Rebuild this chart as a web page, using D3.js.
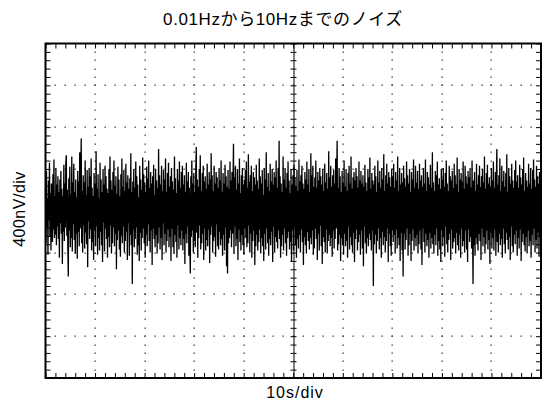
<!DOCTYPE html>
<html>
<head>
<meta charset="utf-8">
<script src="https://cdn.jsdelivr.net/npm/d3@7/dist/d3.min.js"></script>
<style>
  html, body { margin: 0; padding: 0; background: #fff; }
  svg { display: block; }
  text { font-family: "Liberation Sans", Arial, "Noto Sans CJK JP", sans-serif; fill: #000; }
</style>
</head>
<body>
<svg id="chart" width="543" height="414"></svg>
<script>
// Scope screen: 10 horizontal divisions of 10 s, 8 vertical divisions of 400 nV
const titleText = "0.01Hzから10Hzまでのノイズ";
const xLabel = "10s/div";
const yLabel = "400nV/div";
const timeDivs = [0, 10, 20, 30, 40, 50, 60, 70, 80, 90, 100];          // seconds
const voltDivs = [-1600, -1200, -800, -400, 0, 400, 800, 1200, 1600];   // nV

// Noise trace samples in nV, evenly spaced over the 100 s sweep
const noiseNV = [
  220,-310,380,-160,120,-420,290,-90,460,-250,170,-380,260,-40,-300,350,-180,490,-260,140,-230,410,-330,250,-150,
  330,-270,180,-450,300,-120,380,-220,210,-510,140,-200,440,-290,260,-160,470,530,-240,200,-360,-630,310,-190,420,
  -350,160,-260,520,-390,270,-130,450,-280,180,-410,300,-220,130,-460,380,-200,280,-340,560,-170,240,690,-310,190,
  -400,340,-140,270,-360,480,-210,150,-320,390,-540,230,-100,410,-270,330,-180,500,-380,220,-300,140,-470,360,-190,
  260,-340,570,-150,210,-420,350,-260,120,-380,460,-200,300,-330,180,-490,400,-110,250,-390,430,-170,330,-270,210,
  -450,170,-250,400,-350,520,-140,290,-410,200,-310,370,-160,480,-340,240,-220,330,-560,160,-280,420,-190,300,-370,
  140,-440,350,-240,500,-310,230,-150,390,-400,190,-290,450,-200,270,-470,340,-120,210,-430,310,-230,550,-330,180,
  -700,280,-180,400,-350,220,-270,470,-160,330,-420,250,-330,130,-480,430,-210,300,-380,200,-260,510,-170,350,-310,
  270,-450,180,-230,420,-340,310,-130,480,-290,220,-400,370,-190,260,-520,330,-170,440,-270,150,-350,400,-230,290,
  -410,220,-310,590,-160,340,-370,250,-260,430,-470,190,-120,390,-330,300,-220,500,-400,180,-290,360,-180,460,-350,
  230,-250,330,-480,410,-170,280,-350,200,-410,520,-230,310,-300,170,-450,400,-140,290,-370,470,-260,220,-330,370,
  -190,430,-380,250,-270,340,-510,180,-220,460,-310,280,-150,370,-430,220,-340,-600,330,-250,480,-190,260,-400,360,
  -290,180,-350,410,610,-210,300,-450,230,-260,400,-140,530,-370,190,-310,360,-220,430,-470,280,-170,330,-380,210,
  -280,450,-340,250,-180,370,-500,300,-230,550,-150,340,-400,190,-290,430,-250,260,-440,370,-130,320,-340,220,-370,
  410,-200,290,-330,480,-270,180,-430,360,-230,260,-380,440,-160,330,-530,230,-600,390,-310,210,-260,470,-190,290,
  -350,370,-220,250,640,-410,320,-150,430,-340,200,-270,400,-470,260,-180,500,-300,170,-380,340,-230,410,-330,250,
  -420,300,-170,390,-260,470,-350,220,-310,540,-140,280,-400,340,-220,430,-450,190,-290,370,-190,320,-520,250,-340,
  440,-230,290,-380,210,-300,500,-180,330,-410,260,-260,390,-340,150,-480,410,-220,300,-370,560,-170,230,-310,360,
  -430,190,-270,450,-330,280,-200,400,-490,250,-150,370,-400,320,-250,480,-300,220,-360,410,-190,670,-270,330,-450,
  260,-340,180,-230,520,-380,300,-170,410,-310,220,-430,360,-260,470,-200,290,-370,170,-300,400,-490,250,-190,340,
  -380,440,-150,320,-330,230,-450,390,-270,190,-360,490,-230,280,-400,340,-180,430,-300,260,-520,210,-250,370,-330,
  300,-410,470,-200,250,-290,400,-370,180,-260,550,-320,340,-190,430,-420,230,-360,320,-170,480,-270,220,-470,370,
  -220,290,-380,410,-140,330,-340,250,-510,400,-250,190,-300,450,-400,270,-180,360,-410,210,-290,570,-230,320,-340,
  430,-260,230,-440,340,-190,390,-360,260,-270,500,-170,300,670,-380,220,-320,410,-230,330,-480,180,-260,380,-330,
  270,-420,480,-220,230,-340,400,-290,190,-450,360,-150,430,-370,260,-250,520,-330,210,-400,320,-210,370,-490,290,
  -270,410,-180,330,-380,220,-300,470,-230,290,-420,380,-190,260,-360,340,-530,230,-150,440,-310,270,-410,190,-260,
  400,-340,320,-220,510,-280,210,-380,360,-190,290,-720,250,-320,430,-230,330,-410,180,-290,480,-170,270,-370,380,
  -260,220,-450,410,-200,300,-330,540,-250,190,-400,340,-290,450,-170,260,-490,370,-220,320,-340,230,-430,400,-190,
  330,-300,450,-230,220,-410,370,-180,290,-360,520,-260,190,-330,410,-480,250,-210,360,-380,270,-630,430,-220,310,
  -370,230,-280,470,-170,340,-430,260,-330,400,-220,180,-480,370,-290,300,-180,490,-380,220,-260,430,-340,270,-230,
  380,-410,210,-320,450,-190,290,-370,340,-520,230,-170,410,-300,260,-400,490,-220,190,-340,370,-280,320,-450,250,
  -210,440,-360,220,-260,560,-320,270,-410,190,-230,380,-330,340,-170,470,-430,250,-290,310,-370,210,-490,400,-190,
  300,-340,410,-250,230,-440,360,-150,480,-320,260,-400,190,-280,430,-220,330,-470,290,-180,380,-360,220,-300,450,
  -260,340,-410,250,-210,510,-330,180,-380,400,-230,300,-450,360,-170,280,-340,470,-290,210,-400,430,-190,330,-370,
  260,-490,380,-180,320,-300,410,-250,220,-360,480,-210,-700,290,-330,370,-430,190,-260,450,-320,250,-380,340,-220,
  430,-290,230,-470,330,-170,400,-340,270,-250,520,-410,210,-320,360,-190,440,-370,260,-280,320,-510,230,-210,410,
  -360,290,-260,470,-380,220,-180,370,-430,320,590,-300,250,-400,340,-220,500,-330,190,-270,430,-450,280,-170,380,
  -320,230,-410,360,-210,540,-280,180,-370,410,-250,330,-470,260,-150,450,-340,290,-400,220,-230,390,-320,480,-190,
  280,-430,340,-260,220,-360,440,-180,320,-480,250,-300,400,-220,510,-330,190,-390,360,-250,290,-410,230,-190,450,
  -340,260,-290,410,-450,210,-230,390,-330,490,-170,300,-400,230,-280,430,-360,330,-210,260,-440,370,-250,320,-180
];

const svg = d3.select("#chart");
const plotLeft = 45.5, plotRight = 541, plotTop = 43.5, plotBottom = 378;

const x = d3.scaleLinear().domain([timeDivs[0], timeDivs[timeDivs.length - 1]]).range([plotLeft, plotRight]);
const y = d3.scaleLinear().domain([voltDivs[0], voltDivs[voltDivs.length - 1]]).range([plotBottom, plotTop]);

const tStep = (timeDivs[1] - timeDivs[0]) / 5;   // minor graticule step, s
const vStep = (voltDivs[1] - voltDivs[0]) / 5;   // minor graticule step, nV
const minorT = d3.range(timeDivs[0], timeDivs[timeDivs.length - 1] + tStep / 2, tStep);
const minorV = d3.range(voltDivs[0], voltDivs[voltDivs.length - 1] + vStep / 2, vStep);
const innerT = timeDivs.slice(1, -1);
const innerV = voltDivs.slice(1, -1);
const centerT = 50, centerV = 0;

// Dotted graticule: dots at every minor step along each inner division line
const dots = svg.append("g").attr("fill", "#333");
innerT.filter(t => t !== centerT).forEach(t => {
  minorV.slice(1, -1).forEach(v => {
    dots.append("rect").attr("x", Math.round(x(t)) - 0.5).attr("y", Math.round(y(v)) - 0.5)
      .attr("width", 1.3).attr("height", 1.3);
  });
});
innerV.filter(v => v !== centerV).forEach(v => {
  minorT.slice(1, -1).forEach(t => {
    dots.append("rect").attr("x", Math.round(x(t)) - 0.5).attr("y", Math.round(y(v)) - 0.5)
      .attr("width", 1.3).attr("height", 1.3);
  });
});

// Noise trace
const sampleT = noiseNV.map((_, i) => timeDivs[0] + i * (timeDivs[timeDivs.length - 1] - timeDivs[0]) / (noiseNV.length - 1));
const line = d3.line().x((d, i) => x(sampleT[i])).y(d => y(d));
svg.append("path")
  .datum(noiseNV)
  .attr("d", line)
  .attr("fill", "none")
  .attr("stroke", "#000")
  .attr("stroke-width", 1.3);

// Centre cross axes with ticks on both sides
function styleAxis(g, keepDomain) {
  g.selectAll("text").remove();
  if (!keepDomain) g.select(".domain").remove();
  g.selectAll("line").attr("stroke", "#000");
  g.select(".domain").attr("stroke", "#000");
}
const yc = Math.round(y(centerV)) + 0.5, xc = Math.round(x(centerT)) + 0.5;
svg.append("g").attr("transform", `translate(0,${yc})`)
  .call(d3.axisBottom(x).tickValues(minorT).tickSize(3).tickSizeOuter(0).tickFormat(""))
  .call(g => styleAxis(g, true));
svg.append("g").attr("transform", `translate(0,${yc})`)
  .call(d3.axisTop(x).tickValues(minorT).tickSize(3).tickSizeOuter(0).tickFormat(""))
  .call(g => styleAxis(g, false));
svg.append("g").attr("transform", `translate(${xc},0)`)
  .call(d3.axisLeft(y).tickValues(minorV).tickSize(3).tickSizeOuter(0).tickFormat(""))
  .call(g => styleAxis(g, true));
svg.append("g").attr("transform", `translate(${xc},0)`)
  .call(d3.axisRight(y).tickValues(minorV).tickSize(3).tickSizeOuter(0).tickFormat(""))
  .call(g => styleAxis(g, false));

// Inward ticks on the frame edges
svg.append("g").attr("transform", `translate(0,${plotTop})`)
  .call(d3.axisBottom(x).tickValues(minorT).tickSize(5).tickFormat(""))
  .call(g => styleAxis(g, false));
svg.append("g").attr("transform", `translate(0,${plotBottom})`)
  .call(d3.axisTop(x).tickValues(minorT).tickSize(5).tickFormat(""))
  .call(g => styleAxis(g, false));
svg.append("g").attr("transform", `translate(${plotLeft},0)`)
  .call(d3.axisRight(y).tickValues(minorV).tickSize(5).tickFormat(""))
  .call(g => styleAxis(g, false));
svg.append("g").attr("transform", `translate(${plotRight},0)`)
  .call(d3.axisLeft(y).tickValues(minorV).tickSize(5).tickFormat(""))
  .call(g => styleAxis(g, false));

// Frame
svg.append("rect")
  .attr("x", plotLeft).attr("y", plotTop)
  .attr("width", plotRight - plotLeft).attr("height", plotBottom - plotTop)
  .attr("fill", "none").attr("stroke", "#000").attr("stroke-width", 2);

// Labels
svg.append("text").attr("x", 283).attr("y", 25).attr("text-anchor", "middle")
  .style("font-size", "17px").style("letter-spacing", "0.6px").text(titleText);
svg.append("text").attr("x", 295).attr("y", 398).attr("text-anchor", "middle")
  .style("font-size", "16px").style("letter-spacing", "1px").text(xLabel);
svg.append("text").attr("transform", "translate(25,209) rotate(-90)").attr("text-anchor", "middle")
  .style("font-size", "16px").style("letter-spacing", "0.5px").text(yLabel);
</script>
</body>
</html>
